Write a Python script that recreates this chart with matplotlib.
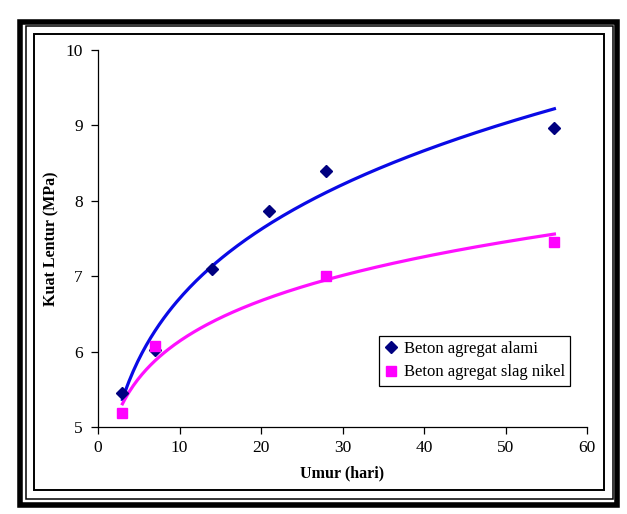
import numpy as np
import matplotlib
matplotlib.use('Agg')
import matplotlib.pyplot as plt
from matplotlib.patches import Rectangle
from matplotlib.lines import Line2D

# data
umur_alami = [3, 7, 14, 21, 28, 56]
kuat_alami = [5.45, 6.02, 7.10, 7.87, 8.40, 8.97]
umur_slag = [3, 7, 28, 56]
kuat_slag = [5.18, 6.07, 7.00, 7.45]

W, H = 627, 514
plt.rcParams['font.family'] = ['Liberation Serif', 'DejaVu Serif']

fig = plt.figure(figsize=(W / 100, H / 100), dpi=100)
ax = fig.add_axes([98 / W, 1 - 427 / H, (587 - 98) / W, (427 - 50) / H])


def power_trend(x, y):
    # power trendline (like excel), fitted in log-log space
    b, a = np.polyfit(np.log(x), np.log(y), 1)
    xs = np.linspace(min(x), max(x), 200)
    return xs, np.exp(a) * xs ** b


xs, ys = power_trend(umur_alami, kuat_alami)
ax.plot(xs, ys, color='#0a0ae6', lw=2.3, zorder=2)
xs, ys = power_trend(umur_slag, kuat_slag)
ax.plot(xs, ys, color='#ff10ff', lw=2.3, zorder=2)

ax.plot(umur_alami, kuat_alami, 'D', color='#000080', ms=6.5, ls='none', zorder=3)
ax.plot(umur_slag, kuat_slag, 's', color='#ff00ff', ms=7, ls='none', zorder=3)

ax.set_xlim(0, 60)
ax.set_ylim(5, 10)
ax.set_xticks(range(0, 61, 10))
ax.set_yticks(range(5, 11))
ax.spines['top'].set_visible(False)
ax.spines['right'].set_visible(False)
for s in ['left', 'bottom']:
    ax.spines[s].set_linewidth(0.9)
ax.tick_params(direction='out', length=5, width=0.9, labelsize=12.5, pad=4)
ax.tick_params(axis='y', pad=6)

ax.set_xlabel('Umur (hari)', fontsize=11.5, fontweight='bold', labelpad=7)
ax.set_ylabel('Kuat Lentur (MPa)', fontsize=11.5, fontweight='bold', labelpad=4)

handles = [Line2D([], [], marker='D', color='#000080', ls='none', ms=6),
           Line2D([], [], marker='s', color='#ff00ff', ls='none', ms=7)]
leg = ax.legend(handles, ['Beton agregat alami', 'Beton agregat slag nikel'],
                loc='upper left', bbox_to_anchor=(379 / W, 1 - 336 / H),
                bbox_transform=fig.transFigure, borderaxespad=0,
                fancybox=False, framealpha=1, edgecolor='black', fontsize=12,
                handlelength=0.8, handletextpad=0.4, borderpad=0.3, labelspacing=0.45)
leg.get_frame().set_linewidth(0.9)


def frame(x0, y0, x1, y1, lw):
    fig.patches.append(Rectangle((x0 / W, 1 - y1 / H), (x1 - x0) / W, (y1 - y0) / H,
                                 transform=fig.transFigure, fill=False,
                                 edgecolor='black', lw=lw))


# double border around the chart
frame(20, 21.5, 616.5, 504.5, 4.0)
frame(26, 26, 612.5, 499, 1.1)
frame(34, 34, 603.5, 490, 1.4)

fig.savefig('out.png', dpi=100)
